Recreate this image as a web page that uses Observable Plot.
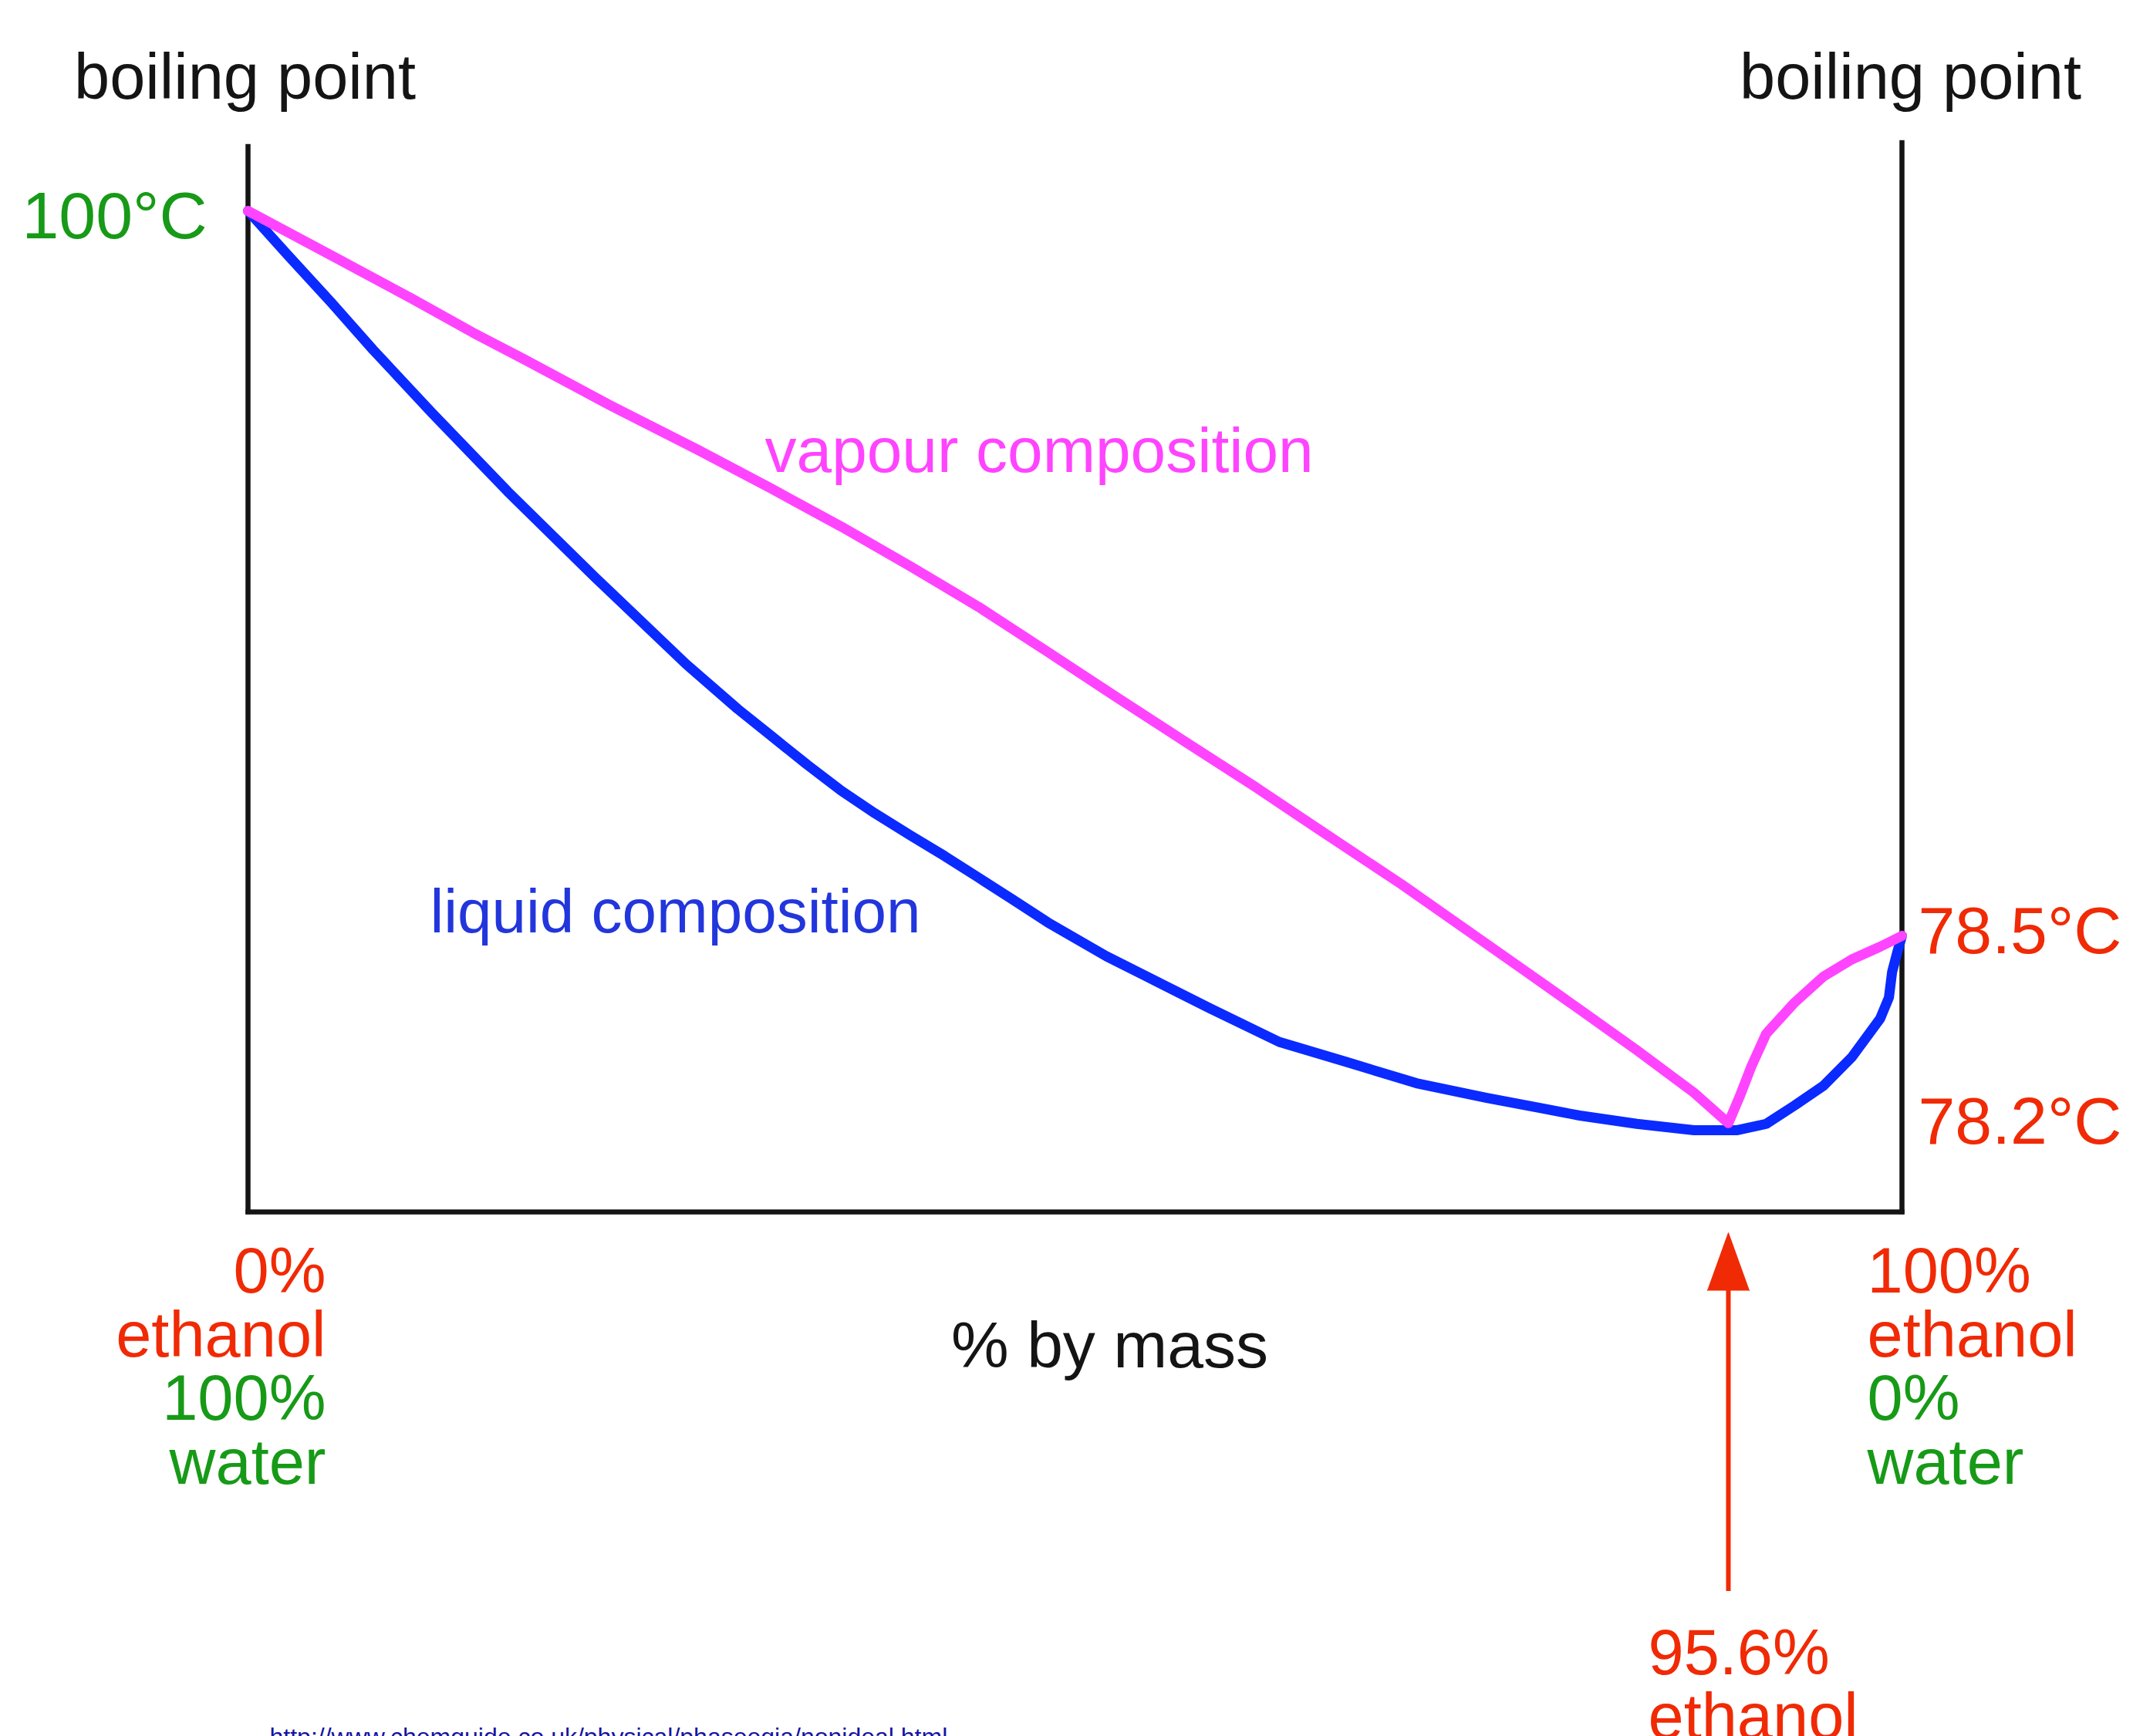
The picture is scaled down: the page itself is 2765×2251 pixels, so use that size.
<!DOCTYPE html>
<html><head><meta charset="utf-8">
<script src="https://cdn.jsdelivr.net/npm/d3@7"></script>
<script src="https://cdn.jsdelivr.net/npm/@observablehq/plot@0.6"></script>
<style>
html,body{margin:0;padding:0;background:#fff;overflow:hidden}
</style></head><body>
<div id="chart"></div>
<script>
// % ethanol by mass (x) and boiling temperature in °C (y)
const vapourPct  = [0, 5.62, 10.54, 14.49, 17.83, 23.45, 28.99, 33.82, 38.30, 42.78, 47.17, 51.65, 56.05, 60.52, 65.01, 68.69, 74.49, 78.62, 82.40, 86.00, 89.69, 93.38, 95.6, 95.90, 96.18, 96.56, 97.28, 98.01, 98.73, 99.45, 100];
const vapourTemp = [100, 98.62, 97.41, 96.40, 95.60, 94.22, 92.93, 91.76, 90.64, 89.46, 88.26, 86.92, 85.59, 84.26, 82.93, 81.80, 80.03, 78.70, 78.446, 78.384, 78.320, 78.253, 78.205, 78.249, 78.294, 78.346, 78.395, 78.436, 78.463, 78.483, 78.5];
const liquidPct  = [0, 2.55, 5.36, 8.08, 11.86, 16.77, 22.49, 28.29, 31.62, 33.82, 36.10, 38.30, 40.50, 42.78, 44.98, 47.17, 49.37, 51.65, 55.43, 58.77, 62.11, 66.59, 70.98, 75.46, 79.94, 83.63, 86.00, 89.69, 93.38, 95.83, 96.56, 97.28, 98.01, 98.73, 99.45, 99.67, 99.75, 99.89, 100];
const liquidTemp = [100, 98.70, 97.29, 95.88, 94.02, 91.68, 89.10, 86.56, 85.23, 84.42, 83.58, 82.81, 82.13, 81.48, 80.87, 80.23, 79.58, 78.90, 78.468, 78.427, 78.386, 78.333, 78.301, 78.268, 78.245, 78.228, 78.217, 78.204, 78.194, 78.194, 78.204, 78.233, 78.264, 78.309, 78.370, 78.403, 78.443, 78.476, 78.5];

const leftTicks = [100];          // water boiling point
const rightTicks = [78.5, 78.2];  // ethanol boiling point, azeotrope
const ends = [0, 100];            // % ethanol at the two axes
const azeotrope = [95.6];         // % ethanol at the azeotrope
const curveLabels = ["vapour composition", "liquid composition"];
const curveLabelPct = [33.38, 11.76];
const curveLabelTemp = [92.25, 78.61];
const sourceUrl = ["http://www.chemguide.co.uk/physical/phaseeqia/nonideal.html"];

const vapour = vapourPct.map((p, i) => ({pct: p, temp: vapourTemp[i]}));
const liquid = liquidPct.map((p, i) => ({pct: p, temp: liquidTemp[i]}));
const labels = curveLabels.map((t, i) => ({text: t, pct: curveLabelPct[i], temp: curveLabelTemp[i]}));

// The drawing is schematic: the ranges 95.6–100 % and 78.2–78.5 °C are stretched.
const tX = p => p <= 95.6 ? p : 95.6 + (p - 95.6) * 2.5477;
const tY = t => t >= 78.5 ? t : 78.5 - (78.5 - t) * 18.83;

const RED = "#f02a05", GREEN = "#179a17", MAGENTA = "#ff44ff", BLUE = "#0a2aff", INK = "#141414";
const FS = 83;

const chart = Plot.plot({
  width: 2765, height: 2251,
  marginTop: 190, marginBottom: 680, marginLeft: 321, marginRight: 300,
  x: {type: "linear", transform: tX, domain: [tX(0), tX(100)], range: [321, 2465], axis: null},
  y: {type: "linear", transform: tY, domain: [tY(78.2), tY(100)], range: [1460, 273], axis: null},
  style: {fontFamily: "'Liberation Sans', Arial, sans-serif", background: "#fff"},
  marks: [
    // axes frame (no top)
    Plot.ruleX([0], {x: d => d, stroke: INK, strokeWidth: 6.5, strokeLinecap: "square"}),
    Plot.ruleX([100], {x: d => d, stroke: INK, strokeWidth: 6.5, strokeLinecap: "square", insetTop: -5}),
    Plot.frame({anchor: "bottom", stroke: INK, strokeWidth: 6.5, strokeLinecap: "square"}),

    // curves
    Plot.line(liquid, {x: "pct", y: "temp", stroke: BLUE, strokeWidth: 13, strokeLinejoin: "round", strokeLinecap: "round"}),
    Plot.line(vapour, {x: "pct", y: "temp", stroke: MAGENTA, strokeWidth: 13, strokeLinejoin: "round", strokeLinecap: "round"}),

    // curve labels
    Plot.text(labels.slice(0, 1), {x: "pct", y: "temp", text: "text", fill: MAGENTA, fontSize: 82, textAnchor: "start", lineAnchor: "bottom"}),
    Plot.text(labels.slice(1), {x: "pct", y: "temp", text: "text", fill: "#2236dc", fontSize: 80, textAnchor: "start", lineAnchor: "bottom"}),

    // "boiling point" headers over each axis
    Plot.text([0], {x: d => d, frameAnchor: "top", text: () => "boiling point", fill: INK, fontSize: 83, lineAnchor: "bottom", dy: -63, dx: -4}),
    Plot.text([100], {x: d => d, frameAnchor: "top", text: () => "boiling point", fill: INK, fontSize: 83, lineAnchor: "bottom", dy: -63, dx: 11}),

    // temperature tick labels
    Plot.text(leftTicks, {y: d => d, frameAnchor: "left", text: d => `${d}°C`, fill: GREEN, fontSize: 86, textAnchor: "end", dx: -53, dy: 8}),
    Plot.text(rightTicks, {y: d => d, frameAnchor: "right", text: d => `${d.toFixed(1)}°C`, fill: RED, fontSize: 86, textAnchor: "start", dx: 21, dy: -5}),

    // composition labels at each end of the x axis
    Plot.text(ends.slice(0, 1), {x: d => d, frameAnchor: "bottom", text: d => `${d}%\nethanol`, fill: RED, fontSize: FS, textAnchor: "end", lineAnchor: "bottom", lineHeight: 1.0, dx: 101, dy: 187}),
    Plot.text(ends.slice(0, 1), {x: d => d, frameAnchor: "bottom", text: d => `${100 - d}%\nwater`, fill: GREEN, fontSize: FS, textAnchor: "end", lineAnchor: "bottom", lineHeight: 1.0, dx: 101, dy: 352}),
    Plot.text(ends.slice(1), {x: d => d, frameAnchor: "bottom", text: d => `${d}%\nethanol`, fill: RED, fontSize: FS, textAnchor: "start", lineAnchor: "bottom", lineHeight: 1.0, dx: -45, dy: 187}),
    Plot.text(ends.slice(1), {x: d => d, frameAnchor: "bottom", text: d => `${100 - d}%\nwater`, fill: GREEN, fontSize: FS, textAnchor: "start", lineAnchor: "bottom", lineHeight: 1.0, dx: -45, dy: 352}),

    // x axis title
    Plot.text(["% by mass"], {frameAnchor: "bottom", text: d => d, fill: INK, fontSize: 84, lineAnchor: "bottom", dx: 45, dy: 201}),

    // azeotrope arrow and label
    Plot.ruleX(azeotrope, {x: d => d, stroke: RED, strokeWidth: 6, insetTop: 1483, insetBottom: -492}),
    Plot.vector(azeotrope, {x: d => d, frameAnchor: "bottom", dy: 102, length: 75, rotate: 0, shape: "spike", r: 27, anchor: "start", fill: RED, stroke: RED, strokeWidth: 1}),
    Plot.text(azeotrope, {x: d => d, frameAnchor: "bottom", text: d => `${d}%\nethanol`, fill: RED, fontSize: FS, textAnchor: "start", lineAnchor: "bottom", lineHeight: 1.0, dx: -104, dy: 682}),

    // source
    Plot.text(sourceUrl, {frameAnchor: "bottom-left", text: d => d, fill: "#1414a0", fontSize: 32, textAnchor: "start", lineAnchor: "bottom", dx: 28, dy: 691})
  ]
});
document.getElementById("chart").appendChild(chart);
</script>
</body></html>
